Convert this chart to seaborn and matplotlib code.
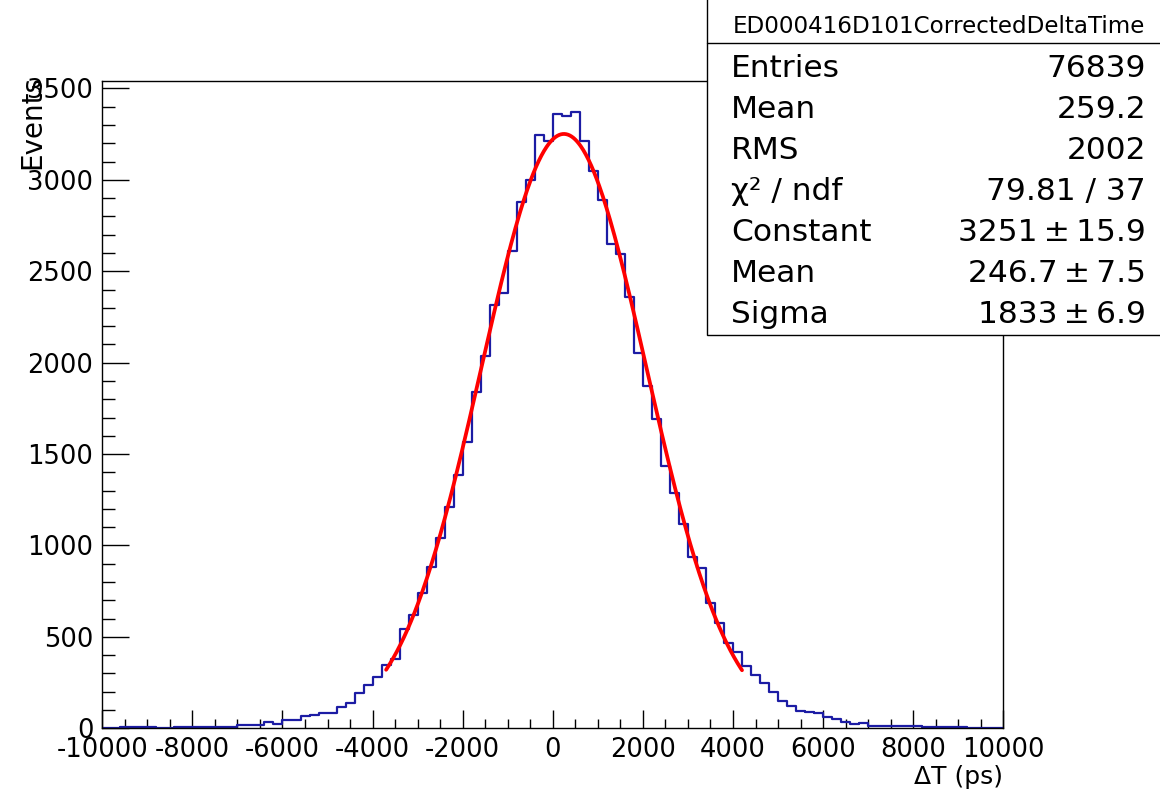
import numpy as np
import pandas as pd
import matplotlib
matplotlib.use("Agg")
import matplotlib.pyplot as plt
import seaborn as sns
from matplotlib.patches import Rectangle
from matplotlib.lines import Line2D
from matplotlib.ticker import MultipleLocator

# ---------------- data ----------------
bin_low = -10000
bin_high = 10000
bin_width = 200
counts = [
    2, 3, 5, 5, 5, 5, 4, 3, 6, 7,
    8, 9, 9, 6, 7, 16, 17, 18, 36, 24,
    44, 45, 69, 72, 82, 85, 118, 140, 195, 237,
    282, 346, 379, 541, 620, 742, 884, 1040, 1209, 1386,
    1568, 1842, 2037, 2316, 2383, 2611, 2878, 3000, 3246, 3210,
    3359, 3350, 3372, 3213, 3051, 2890, 2648, 2595, 2361, 2055,
    1873, 1690, 1435, 1289, 1118, 936, 879, 687, 578, 465,
    416, 341, 292, 246, 197, 149, 124, 95, 91, 85,
    64, 49, 35, 22, 29, 14, 14, 13, 11, 11,
    10, 8, 8, 7, 5, 5, 4, 4, 3, 2,
]
fit_constant = 3251.0
fit_mean = 246.7
fit_sigma = 1833.0
fit_range = [-3700, 4200]

stats_title = "ED000416D101CorrectedDeltaTime"
stats_labels = ["Entries", "Mean", "RMS", "χ² / ndf", "Constant", "Mean", "Sigma"]
stats_values = ["76839", "259.2", "2002", "79.81 / 37",
                "3251\u2009±\u200915.9", "246.7\u2009±\u20097.5", "1833\u2009±\u20096.9"]

x_label = "ΔT (ps)"
y_label = "Events"
x_ticks = list(range(-10000, 10001, 2000))
y_ticks = list(range(0, 3501, 500))

# ---------------- build ----------------
n_bins = len(counts)
centers = bin_low + bin_width * (np.arange(n_bins) + 0.5)
hist_df = pd.DataFrame({"dt": centers, "n": counts})

xf = np.linspace(fit_range[0], fit_range[1], 400)
fit_df = pd.DataFrame({"dt": xf,
                       "f": fit_constant * np.exp(-0.5 * ((xf - fit_mean) / fit_sigma) ** 2)})

sns.set_style("ticks")
plt.rcParams["font.family"] = ["DejaVu Sans"]
plt.rcParams["axes.unicode_minus"] = False
plt.rcParams["text.color"] = "black"
plt.rcParams["axes.labelcolor"] = "black"
plt.rcParams["xtick.color"] = "black"
plt.rcParams["ytick.color"] = "black"

W, H = 1160, 797
fig = plt.figure(figsize=(W / 100, H / 100), dpi=100)
ax = fig.add_axes([102.3 / W, 1 - 728.3 / H, (1003.3 - 102.3) / W, (728.3 - 81) / H])

sns.histplot(data=hist_df, x="dt", weights="n", binwidth=bin_width,
             binrange=(bin_low, bin_high), element="step",
             fill=False, color="#1c1ca4", linewidth=1.6, ax=ax)
sns.lineplot(data=fit_df, x="dt", y="f", color="red", linewidth=2.7, ax=ax)

ax.set_xlim(bin_low, bin_high)
ax.set_ylim(0, 1.05 * max(counts))
ax.set_xticks(x_ticks)
ax.set_yticks(y_ticks)
ax.xaxis.set_minor_locator(MultipleLocator(500))
ax.yaxis.set_minor_locator(MultipleLocator(100))
ax.tick_params(axis="x", which="major", direction="in", length=13, width=1.0,
               labelsize=18.5, pad=6, top=False, colors="black")
ax.tick_params(axis="x", which="minor", direction="in", length=6.5, width=1.0, top=False)
ax.tick_params(axis="y", which="major", direction="in", length=19.5, width=1.0,
               labelsize=18.5, pad=6.5, right=False, colors="black")
ax.tick_params(axis="y", which="minor", direction="in", length=9.5, width=1.0, right=False)
for s in ax.spines.values():
    s.set_visible(True)
    s.set_linewidth(1.0)
    s.set_color("black")

ax.set_xlabel(x_label, loc="right", fontsize=18, labelpad=2, color="black")
ax.set_ylabel(y_label, loc="top", fontsize=20, color="black")
ax.yaxis.set_label_coords(-0.0625, 1.009)

# ---------------- stats box ----------------
def fx(px):
    return px / W

def fy(py):
    return 1 - py / H

box_left, box_right, box_top, box_bottom = 707, 1170, -5, 335
fig.patches.append(Rectangle((fx(box_left), fy(box_bottom)),
                             fx(box_right) - fx(box_left), fy(box_top) - fy(box_bottom),
                             transform=fig.transFigure, facecolor="white",
                             edgecolor="black", linewidth=1.0, zorder=5))
fig.lines.append(Line2D([fx(box_left), fx(box_right)], [fy(43), fy(43)],
                        transform=fig.transFigure, color="black", linewidth=1.0, zorder=6))
fig.text(fx(938.5), fy(33.3), stats_title, ha="center", va="baseline", fontsize=16.6, zorder=7)
row_y0, row_dy = 76.7, 41.1
for i, (lab, val) in enumerate(zip(stats_labels, stats_values)):
    yy = fy(row_y0 + i * row_dy)
    fig.text(fx(731), yy, lab, ha="left", va="baseline", fontsize=22.5, zorder=7)
    fig.text(fx(1146), yy, val, ha="right", va="baseline", fontsize=22.5, zorder=7)

fig.savefig("out.png", dpi=100)
